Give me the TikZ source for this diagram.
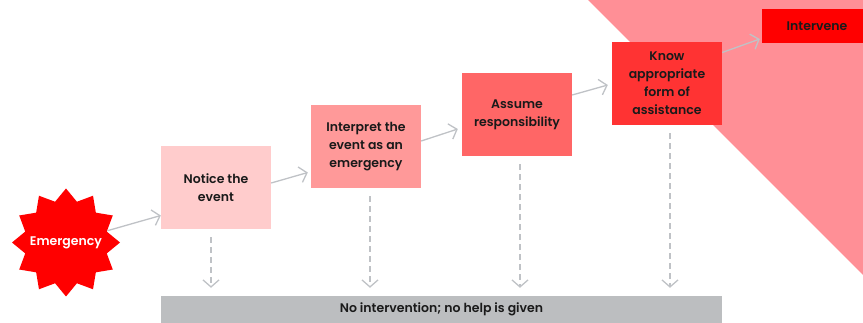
\documentclass[tikz,border=0pt]{standalone}
\usepackage{fontspec}
\setmainfont{Poppins SemiBold}
\usetikzlibrary{shapes.geometric,arrows.meta,calc}
\definecolor{bgpink}{HTML}{FF8F96}
\definecolor{cA}{HTML}{FFCCCC}
\definecolor{cB}{HTML}{FF9999}
\definecolor{cC}{HTML}{FF6666}
\definecolor{cD}{HTML}{FF3333}
\definecolor{cE}{HTML}{FF0000}
\definecolor{barg}{HTML}{BCBEC0}
\definecolor{lineg}{HTML}{BFC2C6}
\definecolor{txt}{HTML}{1A1A1A}
\tikzset{
  lbl/.style={font=\fontsize{12.5}{18}\selectfont},
  stepbox/.style={rectangle, draw=none, minimum width=110pt, minimum height=83pt,
    align=center, text=txt, lbl, inner sep=2pt},
  arr/.style={draw=lineg, line width=1.3pt, -{Straight Barb[length=7pt,width=16pt,line width=1.3pt]}},
  dasharr/.style={arr, dash pattern=on 6pt off 4pt, shorten <=8pt, shorten >=8pt}
}
\begin{document}
\begin{tikzpicture}[x=1pt,y=-1pt]
\useasboundingbox (0,0) rectangle (863,323);
\fill[bgpink] (588,0) -- (863,0) -- (863,275) -- cycle;

\node[stepbox, fill=cA] (notice) at (216,187.5) {Notice the\\event};
\node[stepbox, fill=cB] (interp) at (366,146.5) {Interpret the\\event as an\\emergency};
\node[stepbox, fill=cC] (assume) at (517,114.5) {Assume\\responsibility};
\node[stepbox, fill=cD] (know) at (667,83.5) {Know\\appropriate\\form of\\assistance};
\node[rectangle, fill=cE, minimum width=110pt, minimum height=34pt, text=txt,
  lbl, inner sep=0pt] (interv) at (817,26) {Intervene};
\node[rectangle, fill=barg, minimum width=561pt, minimum height=27pt, text=txt,
  lbl, inner sep=0pt] (nohelp) at (441.5,309.5) {No intervention; no help is given};
\node[star, star points=12, star point ratio=1.28, minimum size=108pt, inner sep=0pt,
  fill=cE, label={[lbl, text=white]center:Emergency}] (emerg) at (66,242.5) {};

\draw[arr] (emerg) -- ([yshift=-28pt]notice.west);
\draw[arr] ([yshift=4.5pt]notice.east) -- ([yshift=-26pt,xshift=-3pt]interp.west);
\draw[arr] ([yshift=5.5pt]interp.east) -- ([yshift=-14.5pt,xshift=-4pt]assume.west);
\draw[arr] ([yshift=19.5pt]assume.east) -- ([yshift=-1.5pt,xshift=-4pt]know.west);
\draw[arr] ([yshift=31pt]know.east) -- ([yshift=-13pt,xshift=-2pt]interv.west);

\draw[dasharr] ([xshift=-5pt]notice.south) -- ([xshift=-5pt]notice.south |- nohelp.north);
\draw[dasharr] ([xshift=4pt]interp.south) -- ([xshift=4pt]interp.south |- nohelp.north);
\draw[dasharr] ([xshift=3pt]assume.south) -- ([xshift=3pt]assume.south |- nohelp.north);
\draw[dasharr] ([xshift=3pt]know.south) -- ([xshift=3pt]know.south |- nohelp.north);
\end{tikzpicture}
\end{document}
